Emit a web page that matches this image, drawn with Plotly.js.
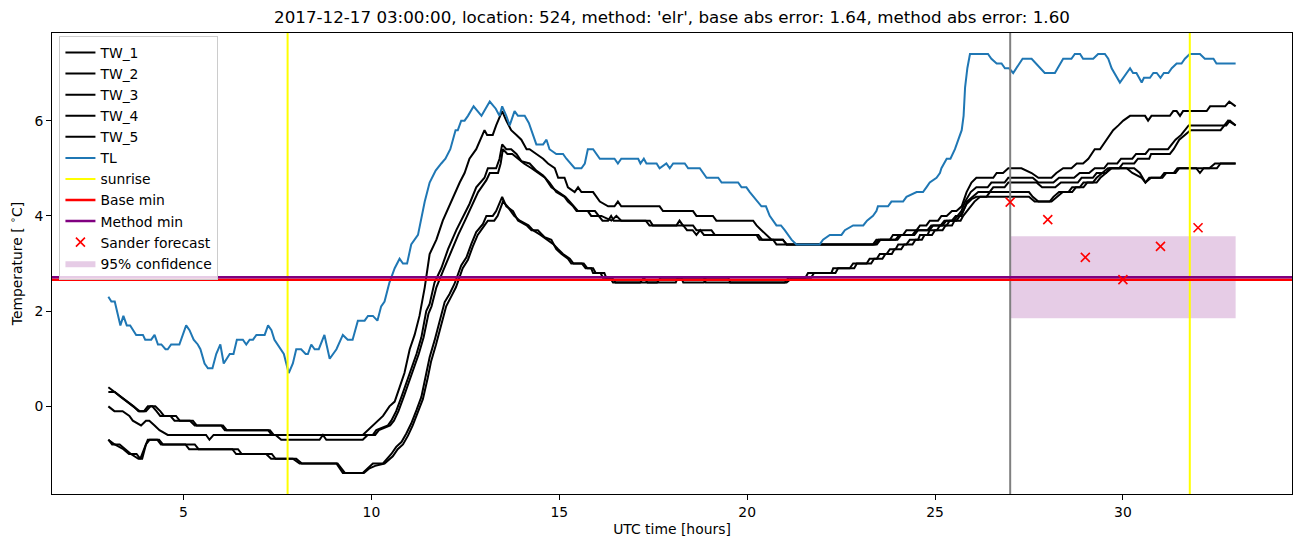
<!DOCTYPE html>
<html>
<head>
<meta charset="utf-8">
<script src="https://cdn.plot.ly/plotly-3.0.1.min.js"></script>
<style>html,body{margin:0;padding:0;background:#fff;}#chart{width:1302px;height:547px;}</style>
</head>
<body>
<div id="chart"></div>
<script>
// ---------------- data (hours UTC, temperature °C) ----------------
const tl_t = [3.0,3.08,3.17,3.32,3.40,3.49,3.58,3.74,3.92,3.98,4.14,4.23,4.32,4.41,4.52,4.58,4.67,4.89,5.07,5.16,5.27,5.38,5.45,5.56,5.65,5.77,5.87,5.98,6.07,6.23,6.33,6.42,6.58,6.67,6.76,6.85,6.94,7.16,7.25,7.34,7.42,7.60,7.67,7.80,7.91,8.0,8.13,8.25,8.31,8.40,8.49,8.60,8.75,8.89,9.07,9.24,9.37,9.5,9.64,9.82,9.91,10.04,10.16,10.26,10.35,10.48,10.62,10.75,10.84,10.95,11.06,11.24,11.42,11.55,11.71,11.86,11.97,12.1,12.24,12.3,12.39,12.48,12.57,12.72,12.93,13.15,13.31,13.41,13.48,13.59,13.68,13.81,13.9,14.08,14.19,14.39,14.57,14.66,14.74,14.92,15.1,15.19,15.41,15.59,15.68,15.76,15.9,16.08,16.47,16.56,16.65,17.1,17.16,17.25,17.32,17.59,17.67,17.85,17.94,18.03,18.34,18.43,18.74,18.92,19.23,19.32,19.76,19.85,19.98,20.07,20.29,20.38,20.5,20.6,20.78,20.9,21.0,21.18,21.31,21.93,22.02,22.2,22.51,22.6,22.82,23.09,23.19,23.35,23.44,23.48,23.75,23.84,24.15,24.24,24.51,24.68,24.77,24.86,25.04,25.13,25.17,25.31,25.41,25.53,25.62,25.71,25.76,25.8,25.86,25.93,26.41,26.5,26.64,26.77,26.86,26.97,27.08,27.33,27.57,27.92,28.19,28.41,28.63,28.72,28.86,28.94,29.21,29.34,29.52,29.61,29.7,29.92,30.19,30.27,30.36,30.5,30.56,30.72,30.81,30.9,31.0,31.09,31.21,31.3,31.43,31.56,31.65,31.78,32.05,32.18,32.41,32.49,33.0];
const tl_v = [2.3,2.2,2.2,1.7,1.9,1.7,1.7,1.5,1.5,1.4,1.4,1.5,1.3,1.3,1.2,1.2,1.3,1.3,1.7,1.6,1.4,1.3,1.2,0.9,0.8,0.8,1.1,1.3,0.9,1.1,1.1,1.4,1.4,1.3,1.4,1.4,1.5,1.5,1.7,1.6,1.4,1.2,1.1,0.7,0.9,1.2,1.2,1.1,1.1,1.3,1.2,1.2,1.5,1.0,1.2,1.5,1.4,1.4,1.8,1.8,1.9,1.9,1.8,2.1,2.2,2.6,2.9,3.1,3.0,3.0,3.4,3.6,4.3,4.7,4.95,5.1,5.2,5.4,5.8,5.8,6.0,6.0,6.1,6.3,6.1,6.4,6.25,6.1,6.3,6.1,5.9,6.2,6.1,6.1,5.95,5.5,5.5,5.6,5.4,5.3,5.3,5.2,5.0,5.0,5.1,5.4,5.4,5.2,5.2,5.1,5.2,5.2,5.1,5.2,5.1,5.1,5.0,5.1,5.0,5.1,5.1,5.0,5.0,4.8,4.8,4.7,4.7,4.6,4.6,4.5,4.3,4.2,4.2,4.0,3.8,3.8,3.7,3.5,3.4,3.4,3.5,3.6,3.6,3.7,3.8,3.8,3.9,4.0,4.1,4.2,4.2,4.3,4.3,4.4,4.5,4.5,4.6,4.7,4.8,4.9,5.0,5.2,5.2,5.4,5.6,5.8,6.1,6.7,7.1,7.4,7.4,7.3,7.2,7.2,7.1,7.1,7.0,7.3,7.3,7.0,7.0,7.3,7.3,7.4,7.4,7.3,7.3,7.4,7.4,7.3,7.1,6.8,7.1,7.0,7.0,6.8,6.9,6.9,7.0,7.0,6.9,7.0,7.0,7.1,7.2,7.2,7.3,7.4,7.4,7.3,7.3,7.2,7.2];

const tw1_t = [3.0,3.17,3.33,3.5,3.67,3.8,3.95,4.05,4.17,4.28,4.38,4.65,4.76,5.17,5.3,6.0,6.1,7.25,7.35,9.77,9.91,10.04,10.17,10.31,10.48,10.62,10.75,10.88,11.02,11.15,11.28,11.42,11.55,11.73,11.9,12.17,12.35,12.48,12.61,12.79,12.9,13.01,13.08,13.23,13.32,13.48,13.59,13.72,13.86,13.99,14.13,14.21,14.39,14.57,14.7,14.88,14.97,15.14,15.23,15.41,15.5,15.59,15.9,15.99,16.08,16.3,16.47,16.56,16.65,17.67,17.76,18.56,18.65,19.09,19.18,20.16,20.25,20.38,20.51,20.65,20.95,21.05,23.35,23.44,23.8,23.88,24.15,24.24,24.51,24.6,24.77,24.86,25.08,25.17,25.31,25.45,25.57,25.71,25.84,25.97,26.1,26.55,26.64,26.81,26.95,27.3,27.57,27.75,28.1,28.23,28.41,28.63,28.77,28.94,29.08,29.25,29.39,29.57,29.74,29.88,30.01,30.19,30.59,30.67,30.76,31.25,31.34,31.43,31.52,31.6,32.23,32.32,32.72,32.83,33.0];
const tw1_v = [0.4,0.3,0.2,0.1,0.0,-0.1,-0.1,0.0,0.0,-0.1,-0.2,-0.2,-0.3,-0.3,-0.4,-0.4,-0.5,-0.5,-0.6,-0.6,-0.5,-0.4,-0.3,-0.2,0.0,0.1,0.4,0.7,1.2,1.5,1.9,2.5,3.2,3.5,3.9,4.4,4.7,4.9,5.2,5.4,5.6,5.8,5.7,5.7,5.9,6.2,6.0,5.8,5.7,5.6,5.4,5.4,5.3,5.2,5.1,5.0,4.8,4.8,4.6,4.5,4.6,4.5,4.5,4.4,4.3,4.2,4.2,4.3,4.2,4.2,4.1,4.1,4.0,4.0,3.9,3.9,3.8,3.7,3.6,3.5,3.5,3.4,3.4,3.5,3.5,3.6,3.6,3.7,3.7,3.8,3.8,3.9,3.9,4.0,4.0,4.1,4.1,4.2,4.5,4.7,4.8,4.8,4.9,4.9,5.0,5.0,4.9,4.8,4.8,4.9,5.0,5.0,5.1,5.1,5.2,5.4,5.4,5.6,5.8,5.9,6.0,6.1,6.1,6.0,6.1,6.1,6.2,6.2,6.1,6.2,6.2,6.3,6.3,6.4,6.3];

const tw2_t = [3.0,3.17,3.33,3.5,3.67,3.83,4.0,4.12,4.25,4.38,4.48,4.8,4.9,5.25,5.35,6.05,6.15,7.3,7.4,9.86,10.04,10.13,10.44,10.53,10.66,10.8,10.93,11.06,11.2,11.33,11.46,11.55,11.68,11.86,12.04,12.26,12.44,12.61,12.79,13.01,13.1,13.32,13.41,13.48,13.59,13.72,13.86,13.99,14.21,14.39,14.57,14.74,14.92,15.14,15.23,15.37,15.46,15.76,15.85,16.12,16.39,16.52,16.65,17.41,17.49,18.12,18.2,18.29,18.56,18.65,19.05,19.14,20.25,20.33,20.69,20.78,23.45,23.55,24.0,24.1,24.45,24.55,24.85,24.95,25.2,25.3,25.5,25.6,25.7,25.8,25.95,26.1,26.4,26.5,26.85,26.95,27.6,27.75,28.15,28.3,28.7,28.85,29.1,29.25,29.5,29.6,29.85,29.95,30.25,30.35,30.6,30.7,31.2,31.3,31.4,31.55,31.65,31.75,32.75,32.85,33.0];
const tw2_v = [0.3,0.3,0.2,0.1,0.0,-0.1,-0.1,0.0,0.0,-0.1,-0.2,-0.2,-0.3,-0.3,-0.4,-0.4,-0.5,-0.5,-0.6,-0.6,-0.6,-0.5,-0.4,-0.3,-0.1,0.2,0.5,0.8,1.1,1.45,2.0,2.15,2.6,2.9,3.3,3.7,4.0,4.25,4.6,4.8,5.0,5.0,5.2,5.5,5.4,5.4,5.3,5.15,5.1,4.95,4.85,4.7,4.5,4.4,4.3,4.2,4.1,4.1,4.0,4.0,3.9,4.0,3.9,3.9,3.8,3.8,3.9,3.8,3.8,3.7,3.7,3.6,3.6,3.5,3.5,3.4,3.4,3.5,3.5,3.6,3.6,3.7,3.7,3.8,3.8,3.9,3.9,4.0,4.1,4.3,4.5,4.6,4.6,4.7,4.7,4.8,4.8,4.7,4.7,4.8,4.8,4.9,4.9,5.0,5.0,5.1,5.1,5.2,5.2,5.3,5.3,5.4,5.4,5.5,5.6,5.7,5.8,5.9,5.9,6.0,5.9];

const tw3_t = [3.0,3.16,3.38,3.56,3.65,3.87,4.0,4.09,4.23,4.36,4.58,5.6,5.69,5.8,7.45,7.6,8.62,8.71,8.8,9.77,9.9,10.1,10.2,10.5,10.6,10.72,10.86,10.99,11.12,11.26,11.39,11.52,11.6,11.73,11.91,12.09,12.31,12.49,12.66,12.84,13.06,13.15,13.37,13.44,13.5,13.62,13.75,13.9,14.06,14.26,14.44,14.62,14.79,14.97,15.16,15.28,15.4,15.5,15.95,16.05,16.15,16.3,16.38,16.45,17.3,17.4,18.3,18.4,18.55,18.65,18.75,18.85,20.3,20.4,20.95,21.05,23.4,23.5,23.95,24.05,24.4,24.5,24.8,24.9,25.15,25.25,25.45,25.55,25.7,25.85,26.0,26.15,26.45,26.55,26.85,26.95,27.7,27.85,28.2,28.35,28.8,28.9,29.2,29.3,29.55,29.65,29.9,30.0,30.3,30.4,30.7,30.75,31.25,31.35,31.5,31.65,31.8,32.6,32.8,33.0];
const tw3_v = [0.0,-0.1,-0.1,-0.2,-0.3,-0.4,-0.3,-0.3,-0.4,-0.5,-0.6,-0.6,-0.7,-0.6,-0.6,-0.7,-0.7,-0.6,-0.7,-0.7,-0.6,-0.6,-0.5,-0.4,-0.3,-0.1,0.2,0.5,0.8,1.1,1.45,1.95,2.1,2.5,2.85,3.2,3.6,3.9,4.2,4.5,4.75,4.9,4.9,5.1,5.4,5.3,5.3,5.2,5.1,5.0,4.9,4.8,4.6,4.5,4.4,4.3,4.2,4.1,4.1,4.0,3.9,3.9,4.0,3.9,3.9,3.8,3.8,3.7,3.7,3.6,3.7,3.6,3.6,3.5,3.5,3.4,3.4,3.5,3.5,3.6,3.6,3.7,3.7,3.8,3.8,3.9,3.9,4.0,4.0,4.3,4.4,4.5,4.5,4.6,4.6,4.7,4.7,4.6,4.6,4.7,4.7,4.8,4.8,4.9,4.9,5.0,5.0,5.1,5.1,5.2,5.2,5.3,5.3,5.4,5.6,5.7,5.8,5.8,6.0,5.9];

const tw4_t = [3.0,3.17,3.4,3.55,3.75,3.85,3.95,4.05,4.35,4.45,5.05,5.15,6.3,6.4,7.2,7.33,7.91,8.09,9.07,9.24,9.77,9.91,10.04,10.31,10.53,10.66,10.8,10.93,11.06,11.2,11.33,11.46,11.55,11.68,11.82,11.95,12.08,12.21,12.39,12.53,12.66,12.79,12.97,13.06,13.23,13.32,13.48,13.59,13.77,13.9,14.13,14.26,14.43,14.61,14.79,14.92,15.06,15.23,15.32,15.6,15.7,15.85,15.9,16.1,16.16,16.35,16.43,17.15,17.25,17.35,18.1,18.15,18.85,18.9,21.0,21.1,21.55,21.62,22.24,22.29,22.73,22.82,23.18,23.26,23.45,23.53,23.71,23.8,23.95,24.02,24.24,24.33,24.55,24.6,24.8,24.86,25.05,25.13,25.31,25.39,25.57,25.66,25.75,25.84,25.97,26.1,26.37,26.46,27.5,27.6,27.75,28.05,28.15,28.3,28.55,28.65,28.85,28.95,29.2,29.3,29.45,29.6,30.3,30.45,30.6,30.75,31.0,31.1,31.35,31.45,31.95,32.05,32.15,32.5,32.6,33.0];
const tw4_v = [-0.7,-0.8,-0.9,-1.0,-1.0,-1.1,-0.9,-0.7,-0.7,-0.8,-0.8,-0.9,-0.9,-1.0,-1.0,-1.1,-1.1,-1.2,-1.2,-1.4,-1.4,-1.3,-1.2,-1.2,-1.0,-0.85,-0.75,-0.57,-0.36,-0.08,0.2,0.69,1.03,1.38,1.8,2.19,2.36,2.57,2.96,3.13,3.41,3.66,3.83,4.0,4.0,4.1,4.4,4.2,4.1,3.9,3.8,3.7,3.7,3.55,3.5,3.3,3.2,3.1,3.0,3.0,2.9,2.9,2.8,2.8,2.7,2.7,2.6,2.6,2.7,2.6,2.6,2.7,2.7,2.6,2.6,2.7,2.7,2.8,2.8,2.9,2.9,3.0,3.0,3.1,3.1,3.2,3.2,3.3,3.3,3.4,3.4,3.5,3.5,3.6,3.6,3.7,3.7,3.8,3.8,3.9,3.9,4.0,4.1,4.25,4.35,4.4,4.4,4.5,4.5,4.4,4.3,4.3,4.4,4.5,4.5,4.6,4.6,4.7,4.7,4.8,4.9,5.0,5.0,4.9,4.7,4.8,4.8,4.9,4.9,5.0,5.0,4.9,5.0,5.0,5.1,5.1];

const tw5_t = [3.0,3.1,3.3,3.45,3.6,3.8,3.9,4.0,4.1,4.3,4.4,5.3,5.4,6.45,6.55,7.35,7.45,8.0,8.15,9.1,9.3,9.8,9.95,10.1,10.35,10.57,10.7,10.84,10.97,11.1,11.24,11.37,11.5,11.59,11.72,11.86,11.99,12.12,12.25,12.43,12.57,12.7,12.83,13.01,13.1,13.27,13.36,13.5,13.62,13.8,13.95,14.18,14.3,14.5,14.66,14.85,14.97,15.1,15.28,15.38,15.65,15.75,15.9,15.97,16.2,16.25,16.4,16.5,17.6,17.7,18.25,18.3,18.85,18.9,19.5,19.55,21.05,21.2,21.7,21.78,22.35,22.42,22.85,22.92,23.3,23.38,23.6,23.68,23.85,23.92,24.1,24.18,24.4,24.48,24.65,24.72,24.92,25.0,25.2,25.28,25.45,25.52,25.68,25.75,25.85,25.95,26.05,26.2,27.5,27.65,28.1,28.25,28.4,28.65,28.75,28.95,29.05,29.3,29.4,29.55,29.7,30.1,30.25,30.5,30.6,30.7,31.05,31.15,31.4,31.5,32.3,32.45,33.0];
const tw5_v = [-0.7,-0.8,-0.8,-0.9,-1.0,-1.1,-1.1,-0.8,-0.7,-0.7,-0.8,-0.8,-0.9,-0.9,-1.0,-1.0,-1.1,-1.1,-1.2,-1.2,-1.4,-1.4,-1.3,-1.25,-1.2,-1.05,-0.9,-0.8,-0.62,-0.4,-0.12,0.15,0.6,0.95,1.3,1.72,2.1,2.3,2.5,2.9,3.08,3.36,3.6,3.8,3.9,3.9,4.0,4.3,4.2,4.0,3.9,3.8,3.7,3.6,3.5,3.4,3.3,3.2,3.1,3.0,3.0,2.9,2.9,2.8,2.8,2.7,2.7,2.6,2.6,2.7,2.7,2.6,2.6,2.7,2.7,2.6,2.6,2.7,2.7,2.8,2.8,2.9,2.9,3.0,3.0,3.1,3.1,3.2,3.2,3.3,3.3,3.4,3.4,3.5,3.5,3.6,3.6,3.7,3.7,3.8,3.8,3.9,3.9,4.0,4.1,4.2,4.3,4.4,4.4,4.3,4.3,4.4,4.5,4.5,4.6,4.6,4.7,4.7,4.8,4.9,5.0,5.0,4.9,4.8,4.7,4.8,4.8,4.9,4.9,5.0,5.0,5.1,5.1];

const sunrise_t = [7.77, 31.78];
const forecast_start = 27.0;
const base_min = 2.66;
const method_min = 2.71;
const forecast_t = [27, 28, 29, 30, 31, 32];
const forecast_v = [4.29, 3.92, 3.13, 2.66, 3.36, 3.75];
const conf_t = [27.0, 33.0];
const conf_v = [1.85, 3.57];

const titleText = "2017-12-17 03:00:00, location: 524, method: 'elr', base abs error: 1.64, method abs error: 1.60";
const X_RANGE = [1.5, 34.5];
const Y_RANGE = [-1.84, 7.84];

// ---------------- traces ----------------
const FONT = 'DejaVu Sans, sans-serif';
const FS = 13.9;
const lw = 2;
function vline(xs){ const x=[],y=[]; xs.forEach(v=>{x.push(v,v,null);y.push(Y_RANGE[0],Y_RANGE[1],null);}); return {x,y}; }
function hline(v){ return {x:[X_RANGE[0],X_RANGE[1]], y:[v,v]}; }

const traces = [];
traces.push({type:'scatter', mode:'lines', name:'95% confidence', legendrank:11,
  x:[conf_t[0],conf_t[1],conf_t[1],conf_t[0],conf_t[0]], y:[conf_v[0],conf_v[0],conf_v[1],conf_v[1],conf_v[0]],
  fill:'toself', fillcolor:'rgba(128,0,128,0.2)', line:{width:0, color:'rgba(0,0,0,0)'}, hoverinfo:'skip'});
const tws = [[tw1_t,tw1_v],[tw2_t,tw2_v],[tw3_t,tw3_v],[tw4_t,tw4_v],[tw5_t,tw5_v]];
tws.forEach((s,i)=>traces.push({type:'scatter', mode:'lines', name:'TW_'+(i+1), legendrank:i+1, x:s[0], y:s[1], line:{color:'black', width:lw}}));
traces.push({type:'scatter', mode:'lines', name:'TL', legendrank:6, x:tl_t, y:tl_v, line:{color:'#1f77b4', width:lw}});
const sr = vline(sunrise_t);
traces.push({type:'scatter', mode:'lines', name:'sunrise', legendrank:7, x:sr.x, y:sr.y, line:{color:'#ffff00', width:lw}});
const fs = vline([forecast_start]);
traces.push({type:'scatter', mode:'lines', name:'forecast start', showlegend:false, x:fs.x, y:fs.y, line:{color:'gray', width:lw}});
const bm = hline(base_min), mm = hline(method_min);
traces.push({type:'scatter', mode:'lines', name:'Base min', legendrank:8, x:bm.x, y:bm.y, line:{color:'red', width:lw+0.5}});
traces.push({type:'scatter', mode:'lines', name:'Method min', legendrank:9, x:mm.x, y:mm.y, line:{color:'purple', width:lw+0.5}});
traces.push({type:'scatter', mode:'markers', name:'Sander forecast', legendrank:10, x:forecast_t, y:forecast_v,
  marker:{symbol:'x-thin-open', size:9, color:'red', line:{color:'red', width:1.6}}});

const axisCommon = {showgrid:false, zeroline:false, showline:true, mirror:true, linecolor:'black', linewidth:1,
  ticks:'outside', ticklen:5, tickwidth:1, tickcolor:'black', tickfont:{family:FONT, size:FS, color:'black'}};

const layout = {
  width:1302, height:547,
  margin:{l:52, r:10, t:33, b:53},
  paper_bgcolor:'white', plot_bgcolor:'white',
  font:{family:FONT, color:'black'},
  title:{text:titleText, font:{family:FONT, size:16.7, color:'black'}, x:0.5, xref:'paper', xanchor:'center', y:1-17/547, yref:'container', yanchor:'middle'},
  xaxis:Object.assign({}, axisCommon, {range:X_RANGE, tickvals:[5,10,15,20,25,30], title:{text:'UTC time [hours]', font:{family:FONT, size:FS, color:'black'}, standoff:5}}),
  yaxis:Object.assign({}, axisCommon, {range:Y_RANGE, tickvals:[0,2,4,6], title:{text:'Temperature [ <sup>∘</sup>C]', font:{family:FONT, size:FS, color:'black'}, standoff:8}}),
  showlegend:true,
  legend:{x:0.006, y:0.9935, xanchor:'left', yanchor:'top', bgcolor:'rgba(255,255,255,0.8)', bordercolor:'#cccccc', borderwidth:1,
    font:{family:FONT, size:FS, color:'black'}, itemwidth:30, tracegroupgap:0},
};

Plotly.newPlot('chart', traces, layout, {displayModeBar:false, staticPlot:true});
</script>
</body>
</html>
